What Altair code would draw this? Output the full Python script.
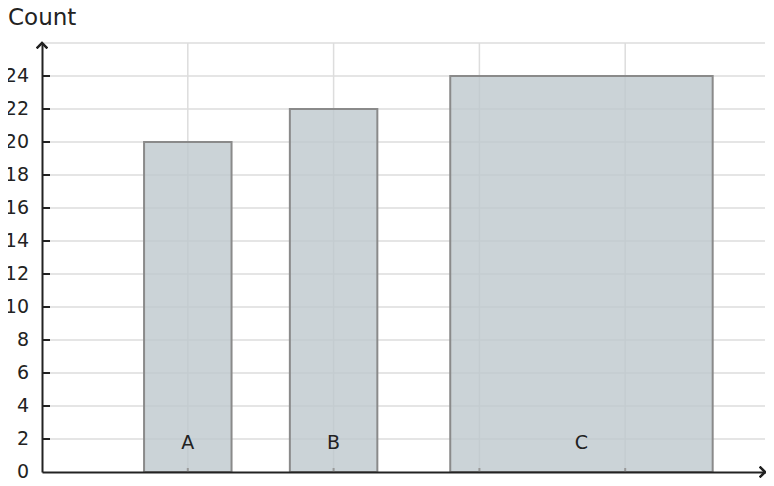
import altair as alt
import pandas as pd

categories = ["A", "B", "C"]
counts = [20, 22, 24]
x_start = [0.7, 1.7, 2.8]
x_end = [1.3, 2.3, 4.6]
y_grid = list(range(2, 28, 2))
y_labels = list(range(0, 26, 2))
y_ticks = list(range(2, 26, 2))
x_ticks = [1, 2, 3, 4]
axis_title = ["Count"]

df = pd.DataFrame({"cat": categories, "count": counts, "x0": x_start, "x1": x_end})
df["mid"] = (df["x0"] + df["x1"]) / 2
ygrid_df = pd.DataFrame({"v": y_grid})
ylab_df = pd.DataFrame({"v": y_labels})
yt = pd.DataFrame({"v": y_ticks})
xt = pd.DataFrame({"v": x_ticks})
title_df = pd.DataFrame({"t": axis_title})

FONT = "DejaVu Sans"
DARK = "#222222"
GRID = "#dddddd"

xscale = alt.Scale(domain=[0, 5], range=[0, 729], nice=False, zero=False)
yscale = alt.Scale(domain=[0, 26], nice=False)

xaxis = alt.Axis(grid=False, labels=False, ticks=False, domain=True, domainColor=DARK,
                 domainWidth=2, title=None, zindex=1)
yaxis = alt.Axis(grid=False, labels=False, ticks=False, domain=True, domainColor=DARK,
                 domainWidth=2, title=None, zindex=1)

hgrid = alt.Chart(ygrid_df).mark_rule(color=GRID, strokeWidth=1.5).encode(
    y=alt.Y("v:Q", scale=yscale, axis=yaxis, title=None),
    x=alt.value(0),
    x2=alt.value("width"),
)

vgrid = alt.Chart(xt).mark_rule(color=GRID, strokeWidth=1.5).encode(
    x=alt.X("v:Q", scale=xscale, axis=xaxis, title=None),
    y=alt.value(0),
    y2=alt.value("height"),
)

bars = alt.Chart(df).mark_rect(
    fill="#bec8cd", fillOpacity=0.8, stroke="#8a8a8a", strokeWidth=2
).encode(
    x=alt.X("x0:Q", scale=xscale, axis=xaxis, title=None),
    x2="x1:Q",
    y=alt.Y("count:Q", scale=yscale, axis=yaxis, title=None),
    y2=alt.datum(0),
)

labels = alt.Chart(df).mark_text(
    font=FONT, fontSize=19, color=DARK, baseline="alphabetic", dy=-23
).encode(
    x=alt.X("mid:Q", scale=xscale, axis=xaxis, title=None),
    y=alt.Y("base:Q", scale=yscale, axis=yaxis, title=None),
    text="cat:N",
).transform_calculate(base="0")

yticks = alt.Chart(yt).mark_rule(color=DARK, strokeWidth=2).encode(
    y=alt.Y("v:Q", scale=yscale, axis=yaxis, title=None),
    x=alt.value(0),
    x2=alt.value(8),
)

ylabels = alt.Chart(ylab_df).mark_text(
    font=FONT, fontSize=19, color=DARK, align="right", baseline="middle", dx=-13
).encode(
    y=alt.Y("v:Q", scale=yscale, axis=yaxis, title=None),
    x=alt.value(0),
    text="v:Q",
)

xticks = alt.Chart(xt).mark_rule(color="#999999", strokeWidth=2).encode(
    x=alt.X("v:Q", scale=xscale, axis=xaxis, title=None),
    y=alt.value(429),
    y2=alt.value(425),
)

ytitle = alt.Chart(title_df).mark_text(
    font=FONT, fontSize=23, color=DARK, align="left", baseline="alphabetic"
).encode(x=alt.value(-34), y=alt.value(-18), text="t:N")

yarrow = alt.Chart(df).mark_point(
    shape="M-1,1L0,0L1,1", filled=False, stroke=DARK, strokeWidth=2, size=110, opacity=1
).encode(x=alt.value(0), y=alt.datum(26))

xarrow = alt.Chart(df).mark_point(
    shape="M-1,-1L0,0L-1,1", filled=False, stroke=DARK, strokeWidth=2, size=110, opacity=1
).encode(x=alt.value("width"), y=alt.datum(0))

chart = alt.layer(hgrid, vgrid, bars, labels, xticks, yticks, ylabels, ytitle,
                  yarrow, xarrow).properties(
    width=723, height=429,
    autosize=alt.AutoSizeParams(type="none"),
    padding={"left": 34, "top": 35, "right": 1, "bottom": 6},
).configure_view(stroke=None)

chart.save("out.html", embed_options={"renderer": "svg", "actions": False})
